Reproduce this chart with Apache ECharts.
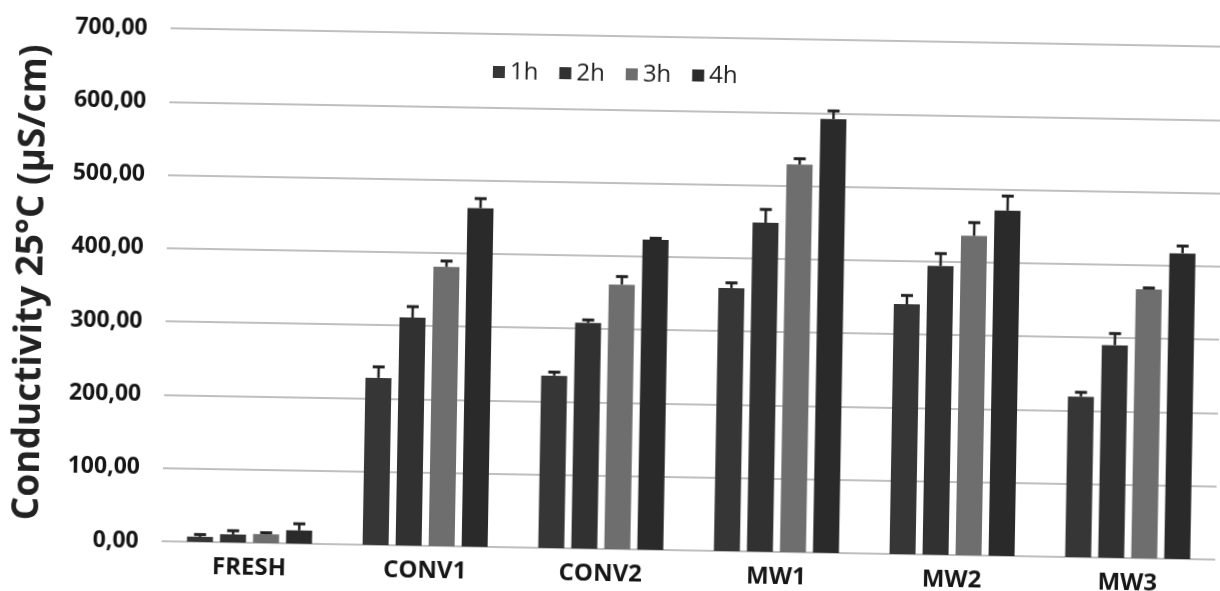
<!DOCTYPE html>
<html>
<head>
<meta charset="utf-8">
<title>Conductivity 25°C</title>
<script src="https://cdn.jsdelivr.net/npm/echarts@6/dist/echarts.min.js"></script>
<style>
  html, body { margin: 0; padding: 0; background: #ffffff; overflow: hidden; }
  /* the printed page sits slightly tilted */
  #chart { width: 1220px; height: 591px; transform: rotate(1deg); transform-origin: 50% 50%; }
</style>
</head>
<body>
<div id="chart"></div>
<script>
// Samples and sampling times
const categories = ['FRESH', 'CONV1', 'CONV2', 'MW1', 'MW2', 'MW3'];
const hours = ['1h', '2h', '3h', '4h'];

// Mean conductivity at 25 °C (µS/cm)
const values1h = [7, 228, 235, 359, 341, 219];
const values2h = [11, 311, 308, 449, 394, 290];
const values3h = [12, 381, 361, 529, 436, 367];
const values4h = [18, 462, 423, 592, 471, 417];

// Standard deviations (upper error bars)
const errors1h = [3, 15, 5, 7, 12, 6];
const errors2h = [5, 15, 4, 18, 17, 16];
const errors3h = [2, 8, 11, 8, 18, 2];
const errors4h = [9, 13, 2, 11, 20, 10];

// Value axis ticks
const yMin = 0, yMax = 700, yStep = 100;

const seriesValues = [values1h, values2h, values3h, values4h];
const seriesErrors = [errors1h, errors2h, errors3h, errors4h];
const barColors = ['#363636', '#313131', '#6e6e6e', '#2a2a2a'];

const BAR_W = 26;
const BAR_GAP = 0.27;
const FONT = '"Open Sans", "Noto Sans", sans-serif';

function errorRenderer(seriesIdx) {
  const offset = (seriesIdx - 1.5) * BAR_W * (1 + BAR_GAP);
  return function (params, api) {
    const idx = api.value(0);
    const val = api.value(1);
    const err = api.value(2);
    const base = api.coord([idx, val]);
    const top = api.coord([idx, val + err]);
    const x = base[0] + offset;
    return {
      type: 'group',
      children: [
        { type: 'line', shape: { x1: x, y1: base[1], x2: x, y2: top[1] },
          style: { stroke: '#222222', lineWidth: 2.5 } },
        { type: 'line', shape: { x1: x - 6, y1: top[1], x2: x + 6, y2: top[1] },
          style: { stroke: '#222222', lineWidth: 3 } }
      ]
    };
  };
}

const series = [];
hours.forEach((h, i) => {
  series.push({
    name: h,
    type: 'bar',
    data: seriesValues[i],
    barWidth: BAR_W,
    barGap: (BAR_GAP * 100) + '%',
    itemStyle: { color: barColors[i] },
    animation: false
  });
});
hours.forEach((h, i) => {
  series.push({
    name: 'sd ' + h,
    type: 'custom',
    renderItem: errorRenderer(i),
    data: categories.map((c, k) => [k, seriesValues[i][k], seriesErrors[i][k]]),
    encode: { x: 0, y: 1 },
    z: 5,
    silent: true,
    animation: false
  });
});

const chart = echarts.init(document.getElementById('chart'), null, { renderer: 'canvas' });
chart.setOption({
  backgroundColor: '#ffffff',
  animation: false,
  legend: {
    data: hours,
    left: 484,
    top: 57,
    itemWidth: 12,
    itemHeight: 12,
    itemGap: 21,
    icon: 'rect',
    textStyle: { fontFamily: FONT, fontSize: 24, color: '#1e1e1e' }
  },
  grid: { left: 166, top: 36, width: 1076, bottom: 42, containLabel: false },
  xAxis: {
    type: 'category',
    data: categories,
    axisLine: { show: false },
    axisTick: { show: false },
    axisLabel: { margin: 13, fontFamily: FONT, fontWeight: 'bold', fontSize: 24, color: '#161616' }
  },
  yAxis: {
    type: 'value',
    min: yMin,
    max: yMax,
    interval: yStep,
    name: 'Conductivity 25°C (µS/cm)',
    nameLocation: 'middle',
    nameGap: 116,
    nameRotate: 90,
    nameTextStyle: { fontFamily: FONT, fontWeight: 'bold', fontSize: 37, color: '#222222' },
    axisLine: { show: false },
    axisTick: { show: false },
    axisLabel: {
      margin: 23,
      fontFamily: FONT,
      fontWeight: 'bold',
      fontSize: 23,
      color: '#161616',
      formatter: v => v.toFixed(2).replace('.', ',')
    },
    splitLine: { lineStyle: { color: '#aaaaaa', width: 1.5 } }
  },
  series: series
});
</script>
</body>
</html>
